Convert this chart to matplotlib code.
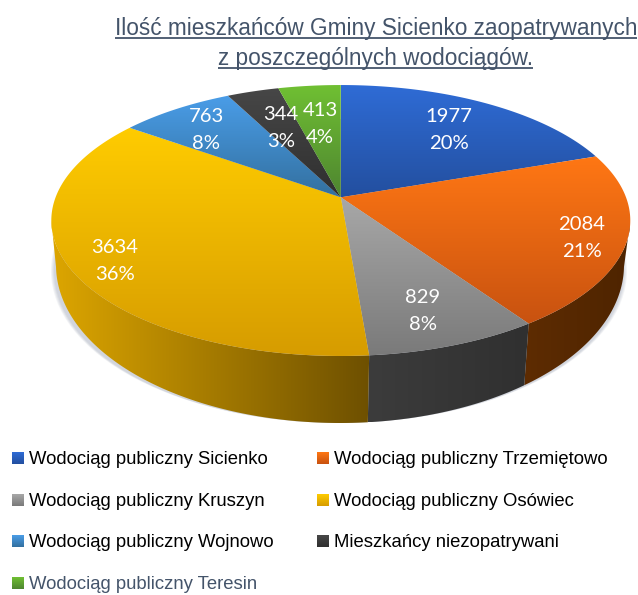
import numpy as np
import matplotlib
matplotlib.use("Agg")
import matplotlib.pyplot as plt
from matplotlib.colors import LinearSegmentedColormap
from matplotlib.patches import Polygon, Ellipse

categories = ["Wodociąg publiczny Sicienko", "Wodociąg publiczny Trzemiętowo",
              "Wodociąg publiczny Kruszyn", "Wodociąg publiczny Osówiec",
              "Wodociąg publiczny Wojnowo", "Mieszkańcy niezopatrywani",
              "Wodociąg publiczny Teresin"]
values = [1977, 2084, 829, 3634, 763, 344, 413]
title_lines = ["Ilość mieszkańców Gminy Sicienko zaopatrywanych", "z poszczególnych wodociągów."]

face_top = ["#2F6CD6", "#FF7714", "#A8A8A8", "#FFCC00", "#4A9DE8", "#474747", "#70C033"]
face_bot = ["#234F9F", "#C85210", "#7A7A7A", "#D69C00", "#33709F", "#2F2F2F", "#4E8530"]
wall_l = ["#1B3A78", "#5E2C02", "#3C3C3C", "#DDA600", "#264F78", "#222222", "#3A6420"]
wall_r = ["#1B3A78", "#4E2400", "#303030", "#6E5000", "#264F78", "#222222", "#3A6420"]
label_xy = [(449, 130), (582, 238), (423, 311), (115, 261), (206, 130), (281, 128), (320, 124)]
legend_xy = [(12, 458), (317, 458), (12, 500), (317, 500), (12, 541), (317, 541), (12, 583)]
legend_col = ["black"] * 6 + ["#44546A"]

W, H = 638, 595
fig = plt.figure(figsize=(W / 100, H / 100), dpi=100)
ax = fig.add_axes([0, 0, 1, 1])
ax.axis("off")

# perspective disc
CX, CY, A, B, K = 340.8, 197.3, 131.5, 285.2, 0.1713
# lower rim of the wall
BX, BY, BRX, BRY = 340.0, 265.0, 284.0, 158.0
TOP_RX = 289.5


def top_pt(t):
    s, c = np.sin(t), np.cos(t)
    d = 1 + K * s
    return CX + B * c / d, CY - A * s / d


def rim_pt(t):
    x, y = top_pt(t)
    u = np.clip((x - CX) / TOP_RX, -1, 1)
    return BX + u * BRX, BY + BRY * np.sqrt(1 - u ** 2)


def gradient(col1, col2, poly, horizontal=False, z=2):
    pts = np.asarray(poly)
    x0, x1 = pts[:, 0].min(), pts[:, 0].max()
    y0, y1 = pts[:, 1].min(), pts[:, 1].max()
    cmap = LinearSegmentedColormap.from_list("g", [col1, col2])
    g = np.linspace(0, 1, 256)
    arr = g[None, :] if horizontal else g[:, None]
    im = ax.imshow(arr, cmap=cmap, extent=[x0, x1, y1, y0], aspect="auto", zorder=z,
                   interpolation="bilinear", vmin=0, vmax=1)
    p = Polygon(pts, closed=True, transform=ax.transData, fc="none", ec="none")
    ax.add_patch(p)
    im.set_clip_path(p)


# soft shadow beside the wall
for i in range(1, 5):
    ax.add_patch(Ellipse((BX - 1, BY + 6), 2 * (BRX + i * 1.0), 2 * BRY - 12, fc="#66728C",
                         ec="none", alpha=0.08, zorder=1))

total = sum(values)
edges = np.cumsum([0] + values) / total
angles = np.pi / 2 - 2 * np.pi * edges

# walls
for i in range(len(values)):
    t = np.linspace(angles[i], angles[i + 1], 600)
    t = t[np.sin(t) < -K]
    if len(t) < 2:
        continue
    tx, ty = top_pt(t)
    rx, ry = rim_pt(t)
    poly = np.r_[np.c_[tx, ty], np.c_[rx, ry][::-1]]
    gradient(wall_l[i], wall_r[i], poly, horizontal=True, z=2)

# top faces
for i in range(len(values)):
    t = np.linspace(angles[i], angles[i + 1], 200)
    tx, ty = top_pt(t)
    poly = np.r_[[[CX, CY]], np.c_[tx, ty]]
    gradient(face_top[i], face_bot[i], poly, z=3)
    pct = round(values[i] / total * 100)
    ax.text(label_xy[i][0], label_xy[i][1], f"{values[i]}\n{pct}%", color="white", family="Lato",
            fontsize=14.6, ha="center", va="center", linespacing=1.7, zorder=5)

# legend
for i, name in enumerate(categories):
    x, y = legend_xy[i]
    sq = [(x, y - 6), (x + 12, y - 6), (x + 12, y + 6), (x, y + 6)]
    gradient(face_top[i], face_bot[i], sq, z=4)
    ax.text(x + 17, y + 1.5, name, family="Liberation Sans", fontsize=13.35, color=legend_col[i],
            ha="left", va="center", zorder=5)

ax.set_xlim(0, W)
ax.set_ylim(H, 0)

# title with underline
renderer = fig.canvas.get_renderer()
inv = ax.transData.inverted()
for line, (xc, yc, uy) in zip(title_lines, [(376, 28.5, 37.5), (375, 58.5, 68)]):
    txt = ax.text(xc, yc, line, family="Liberation Sans", fontsize=16.3, color="#44546A",
                  ha="center", va="center", zorder=5)
    bb = txt.get_window_extent(renderer)
    x0 = inv.transform((bb.x0, bb.y0))[0]
    x1 = inv.transform((bb.x1, bb.y0))[0]
    ax.plot([x0, x1], [uy, uy], color="#44546A", lw=1.3, zorder=5, solid_capstyle="butt")

fig.savefig("out.png", dpi=100)
